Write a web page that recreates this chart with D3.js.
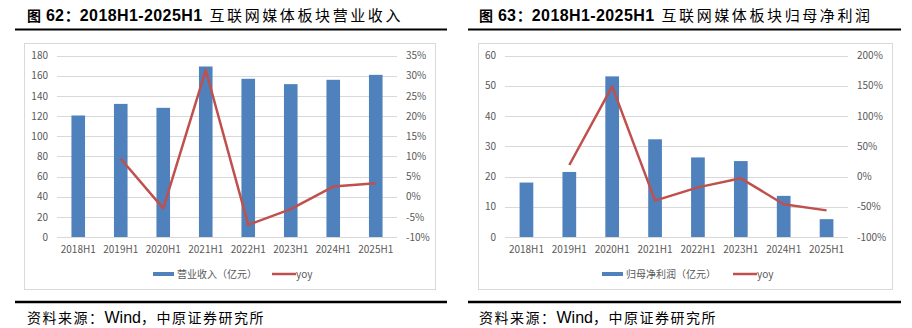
<!DOCTYPE html>
<html><head><meta charset="utf-8">
<script src="https://cdn.jsdelivr.net/npm/d3@7"></script>
<style>
body{margin:0;background:#fff;}
svg{display:block;}
</style></head>
<body>
<svg id="c" width="912" height="328"></svg>
<script>
const categories = ["2018H1","2019H1","2020H1","2021H1","2022H1","2023H1","2024H1","2025H1"];
const revenue = [120.5,132.0,128.1,169.1,156.9,151.6,155.9,160.8];
const revenueYoy = [null,9.4,-2.9,31.4,-7.0,-3.1,2.5,3.3];
const profit = [18.0,21.5,53.1,32.3,26.3,25.1,13.6,5.9];
const profitYoy = [null,19,149,-39.8,-18,-3,-45.8,-56];
const leftTicks1 = [0,20,40,60,80,100,120,140,160,180];
const rightTicks1 = [-10,-5,0,5,10,15,20,25,30,35];
const leftTicks2 = [0,10,20,30,40,50,60];
const rightTicks2 = [-100,-50,0,50,100,150,200];

const svg = d3.select("#c");
const CJK = "'Noto Sans CJK SC','Noto Sans',sans-serif";
const LAT = "'Liberation Sans',Arial,sans-serif";

function panel(o){
  const g = svg.append("g");
  // title
  const t = g.append("text").attr("x",o.titleX).attr("y",21);
  t.append("tspan").attr("font-family",CJK).attr("font-weight","bold").attr("font-size",14).text("图");
  t.append("tspan").attr("font-family",LAT).attr("font-weight","bold").attr("font-size",16).attr("dx",5).text(o.num);
  t.append("tspan").attr("font-family",CJK).attr("font-weight","bold").attr("font-size",15).attr("dx",1).text("：");
  t.append("tspan").attr("font-family",LAT).attr("font-weight","bold").attr("font-size",16).attr("letter-spacing",0.4).text("2018H1-2025H1");
  t.append("tspan").attr("font-family",CJK).attr("font-size",15).attr("dx",7).attr("letter-spacing",2.6).text(o.titleZh);
  g.append("line").attr("x1",o.ruleX1).attr("x2",o.ruleX2).attr("y1",29.5).attr("y2",29.5).attr("stroke","#000").attr("stroke-width",2);
  g.append("line").attr("x1",o.ruleX1).attr("x2",o.ruleX2).attr("y1",302).attr("y2",302).attr("stroke","#000").attr("stroke-width",2.5);
  // box
  g.append("rect").attr("x",o.boxX+0.5).attr("y",43.5).attr("width",o.boxW).attr("height",246).attr("fill","#fff").attr("stroke","#d9d9d9");
  // scales
  const x = d3.scaleBand().domain(categories).range([o.px0,o.px1]).paddingInner(0.68).paddingOuter(0.34);
  const yL = d3.scaleLinear().domain(o.lDom).range([237,55.5]);
  const yR = d3.scaleLinear().domain(o.rDom).range([237,55.5]);
  // grid
  g.append("g").selectAll("line").data(o.lTicks).join("line")
    .attr("x1",o.px0).attr("x2",o.px1).attr("y1",d=>Math.round(yL(d))+0.5).attr("y2",d=>Math.round(yL(d))+0.5)
    .attr("stroke","#d9d9d9").attr("stroke-width",1);
  // axes (labels)
  const axL = g.append("g").attr("transform",`translate(${o.px0},0)`)
    .call(d3.axisLeft(yL).tickValues(o.lTicks).tickSize(0).tickPadding(9));
  const axR = g.append("g").attr("transform",`translate(${o.px1},0)`)
    .call(d3.axisRight(yR).tickValues(o.rTicks).tickSize(0).tickPadding(9).tickFormat(d=>d+"%"));
  const axB = g.append("g").attr("transform",`translate(0,237)`)
    .call(d3.axisBottom(x).tickSize(0).tickPadding(9));
  [axL,axR,axB].forEach(a=>{
    a.select(".domain").remove();
    a.selectAll("text").attr("font-family",CJK).attr("font-size",10).attr("fill","#595959");
  });
  // bars
  g.append("g").selectAll("rect").data(o.bars).join("rect")
    .attr("x",(d,i)=>x(categories[i])).attr("width",x.bandwidth())
    .attr("y",d=>yL(d)).attr("height",d=>yL(0)-yL(d)).attr("fill","#4f81bd");
  // line
  const pts = o.yoy.map((v,i)=>({v,c:categories[i]})).filter(d=>d.v!==null);
  g.append("path").datum(pts)
    .attr("d",d3.line().x(d=>x(d.c)+x.bandwidth()/2).y(d=>yR(d.v)))
    .attr("fill","none").attr("stroke","#c0504d").attr("stroke-width",2.5).attr("stroke-linejoin","round");
  // legend
  const lg = g.append("g");
  lg.append("rect").attr("x",o.legX).attr("y",272).attr("width",21).attr("height",4).attr("fill","#4f81bd");
  lg.append("text").attr("x",o.legX+24).attr("y",278).attr("font-family",CJK).attr("font-size",10).attr("fill","#595959").text(o.legName);
  lg.append("line").attr("x1",o.legX2).attr("x2",o.legX2+24).attr("y1",274).attr("y2",274).attr("stroke","#c0504d").attr("stroke-width",2.5);
  lg.append("text").attr("x",o.legX2+24).attr("y",278).attr("font-family",CJK).attr("font-size",10).attr("fill","#595959").text("yoy");
  // source
  const s = g.append("text").attr("x",o.titleX).attr("y",323).attr("font-size",14);
  s.append("tspan").attr("font-family",CJK).attr("letter-spacing",1.5).text("资料来源：");
  s.append("tspan").attr("font-family",LAT).attr("font-size",16).text("Wind");
  s.append("tspan").attr("font-family",CJK).attr("letter-spacing",1.5).text("，中原证券研究所");
}

panel({titleX:27,num:"62",titleZh:"互联网媒体板块营业收入",ruleX1:15,ruleX2:447,
  boxX:24,boxW:411,px0:57,px1:397,lDom:[0,180],rDom:[-10,35],lTicks:leftTicks1,rTicks:rightTicks1,
  bars:revenue,yoy:revenueYoy,legX:153,legName:"营业收入（亿元）",legX2:272});
panel({titleX:479,num:"63",titleZh:"互联网媒体板块归母净利润",ruleX1:468,ruleX2:901,
  boxX:478,boxW:414,px0:505,px1:848,lDom:[0,60],rDom:[-100,200],lTicks:leftTicks2,rTicks:rightTicks2,
  bars:profit,yoy:profitYoy,legX:602,legName:"归母净利润（亿元）",legX2:733});
</script>
</body></html>
